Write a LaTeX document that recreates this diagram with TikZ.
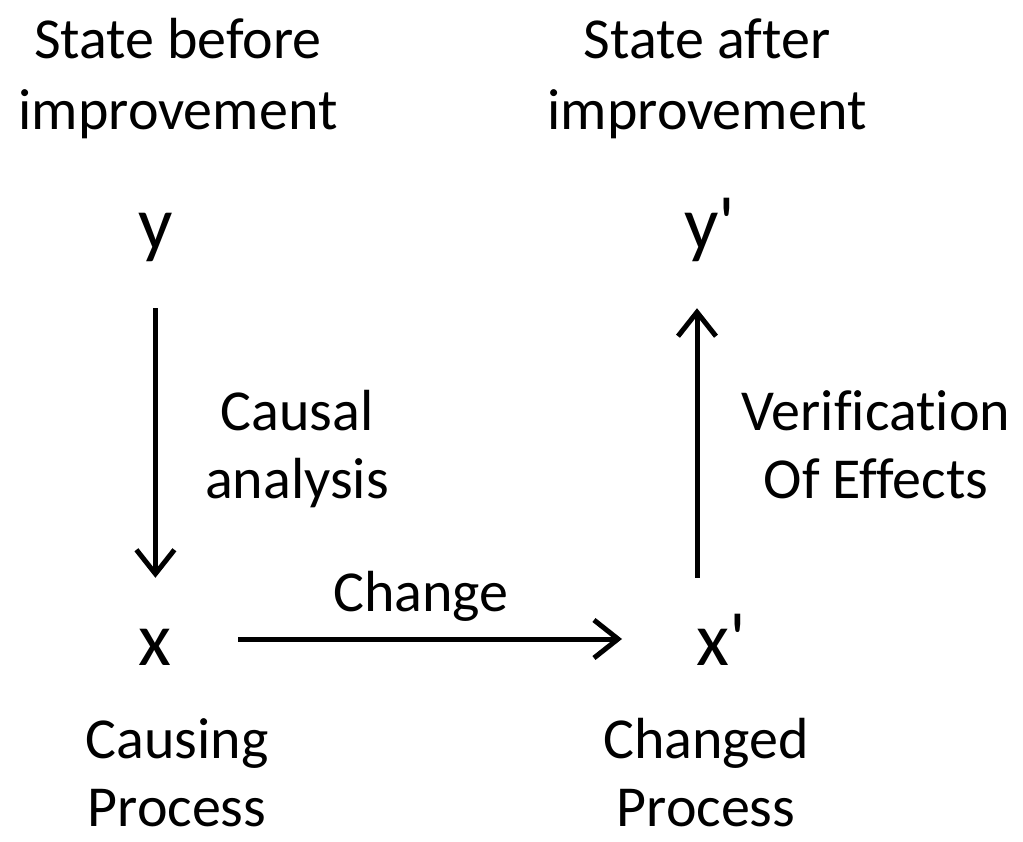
\documentclass[tikz,border=0pt]{standalone}
\usepackage{fontspec}
\setmainfont{Carlito}[Ligatures=CommonOff]
\newfontfamily\letterfont{Carlito}[Ligatures=TeXOff]
\usetikzlibrary{arrows.meta}
\begin{document}
\begin{tikzpicture}[x=1pt,y=-1pt,
  lbl/.style={font=\fontsize{58}{68}\selectfont, inner sep=0pt, anchor=base},
  toplbl/.style={font=\fontsize{58}{71}\selectfont, inner sep=0pt, anchor=base},
  letter/.style={font=\letterfont\fontsize{76}{76}\selectfont, inner sep=0pt, anchor=base west, text height=36pt, text depth=14pt},
  arr/.style={line width=5pt, -{Straight Barb[length=24pt,width=38pt]}}]
\useasboundingbox (0,0) rectangle (1023,842);

% state labels
\node[toplbl] (sb) at (178,59) {\begin{tabular}[t]{@{}c@{}}State before\\improvement\end{tabular}};
\node[toplbl] (sa) at (707,59) {\begin{tabular}[t]{@{}c@{}}State after\\improvement\end{tabular}};

% variables
\node[letter] (y)  at (138,250) {y};
\node[letter] (yp) at (684,250) {y'};
\node[letter] (x)  at (138,665) {x};
\node[letter] (xp) at (696,665) {x'};

% edge labels
\node[lbl] (ca) at (297,430) {\begin{tabular}[t]{@{}c@{}}Causal\\analysis\end{tabular}};
\node[lbl] (ve) at (876,430) {\begin{tabular}[t]{@{}c@{}}Verification\\Of Effects\end{tabular}};
\node[lbl] (ch) at (421,611) {Change};

% process labels
\node[lbl] (cp) at (177,758) {\begin{tabular}[t]{@{}c@{}}Causing\\Process\end{tabular}};
\node[lbl] (cd) at (706,758) {\begin{tabular}[t]{@{}c@{}}Changed\\Process\end{tabular}};

% connectors
\draw[arr, shorten <=44pt, shorten >=51pt] (y.south) -- (y.south |- x.north);
\draw[arr, shorten <=67pt, shorten >=74pt] ([yshift=15pt]x.east) -- ([yshift=15pt]xp.west);
\draw[arr, shorten <=51pt, shorten >=44pt] ([xshift=1pt]xp.north west) -- ([xshift=1pt]xp.north west |- yp.south);
\end{tikzpicture}
\end{document}
